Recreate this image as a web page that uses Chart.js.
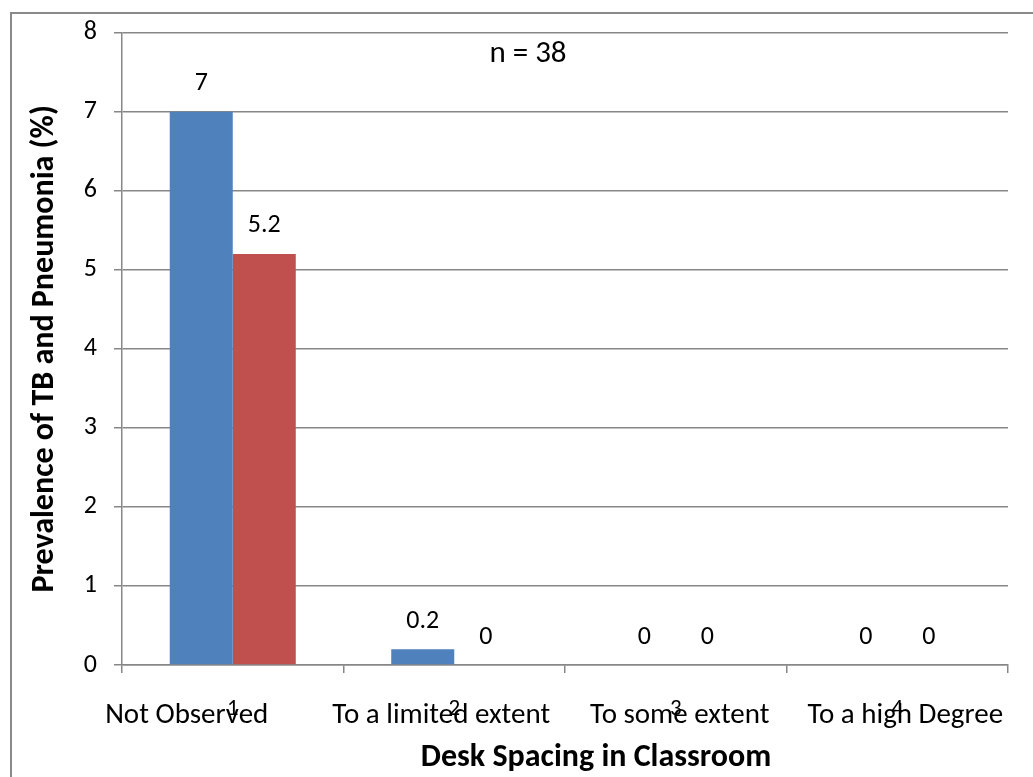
<!DOCTYPE html>
<html>
<head>
<meta charset="utf-8">
<script src="https://cdn.jsdelivr.net/npm/chart.js@4/dist/chart.umd.min.js"></script>
<style>
  html, body { margin: 0; padding: 0; background: #ffffff; }
  #wrap { width: 1033px; height: 777px; }
</style>
</head>
<body>
<div id="wrap"><canvas id="c" width="1033" height="777"></canvas></div>
<script>
// ---- data ----
const categories = ['1', '2', '3', '4'];
const categoryDescriptions = ['Not Observed', 'To a limited extent', 'To some extent', 'To a high Degree'];
const tbValues = [7, 0.2, 0, 0];
const pneumoniaValues = [5.2, 0, 0, 0];
const yTicks = [0, 1, 2, 3, 4, 5, 6, 7, 8];
const sampleNote = 'n = 38';
const xTitle = 'Desk Spacing in Classroom';
const yTitle = 'Prevalence of TB and Pneumonia (%)';

// ---- styles ----
const FONT = 'Carlito, Lato, "Liberation Sans", sans-serif';
const GRID = '#878787';
const descOffsets = [-46, -13, 4, 8];

const decorPlugin = {
  id: 'decor',
  beforeDraw(chart) {
    const ctx = chart.ctx;
    ctx.save();
    ctx.fillStyle = '#ffffff';
    ctx.fillRect(0, 0, chart.width, chart.height);
    ctx.strokeStyle = '#8a8a8a';
    ctx.lineWidth = 2;
    ctx.beginPath();
    ctx.moveTo(11, chart.height + 5);
    ctx.lineTo(11, 13);
    ctx.lineTo(chart.width + 5, 13);
    ctx.stroke();
    ctx.restore();
  },
  afterDraw(chart) {
    const ctx = chart.ctx;
    const xs = chart.scales.x;
    ctx.save();
    ctx.fillStyle = '#000000';
    // data labels
    ctx.font = '26px ' + FONT;
    ctx.textAlign = 'center';
    ctx.textBaseline = 'middle';
    chart.data.datasets.forEach((ds, di) => {
      const meta = chart.getDatasetMeta(di);
      meta.data.forEach((bar, i) => {
        ctx.fillText(String(ds.data[i]), bar.x, bar.y - 28);
      });
    });
    // category descriptions
    ctx.font = '29px ' + FONT;
    ctx.textBaseline = 'alphabetic';
    categoryDescriptions.forEach((t, i) => {
      ctx.fillText(t, xs.getPixelForValue(i) + descOffsets[i], 723);
    });
    // x title
    ctx.font = 'bold 32px ' + FONT;
    ctx.fillText(xTitle, 596, 766);
    // n note
    ctx.font = '31px ' + FONT;
    ctx.textBaseline = 'middle';
    ctx.fillText(sampleNote, 528, 54);
    ctx.restore();
  }
};

new Chart(document.getElementById('c'), {
  type: 'bar',
  data: {
    labels: categories,
    datasets: [
      { label: 'TB', data: tbValues, backgroundColor: '#4F81BD', borderWidth: 0,
        categoryPercentage: 0.569, barPercentage: 1.0 },
      { label: 'Pneumonia', data: pneumoniaValues, backgroundColor: '#C0504D', borderWidth: 0,
        categoryPercentage: 0.569, barPercentage: 1.0 }
    ]
  },
  options: {
    responsive: false,
    animation: false,
    devicePixelRatio: 1,
    layout: { padding: { left: 20, right: 25, top: 28, bottom: 0 } },
    plugins: { legend: { display: false }, tooltip: { enabled: false } },
    scales: {
      x: {
        grid: { drawOnChartArea: false, drawTicks: true, tickLength: 8, color: GRID, lineWidth: 1.5, offset: true },
        border: { color: GRID, width: 1.5 },
        ticks: { color: '#000', font: { family: FONT, size: 23 }, padding: 22 },
        afterFit(scale) { scale.height = 112; }
      },
      y: {
        min: 0, max: 8,
        afterBuildTicks(scale) { scale.ticks = yTicks.map(v => ({ value: v })); },
        grid: { color: GRID, lineWidth: 1.5, tickLength: 8 },
        border: { color: GRID, width: 1.5 },
        ticks: { color: '#000', font: { family: FONT, size: 26 }, padding: 17 },
        title: { display: true, text: yTitle, color: '#000', font: { family: FONT, size: 32, weight: 'bold' }, padding: { top: 6, bottom: 0 } },
        afterFit(scale) { scale.width = 102; }
      }
    }
  },
  plugins: [decorPlugin]
});
</script>
</body>
</html>
